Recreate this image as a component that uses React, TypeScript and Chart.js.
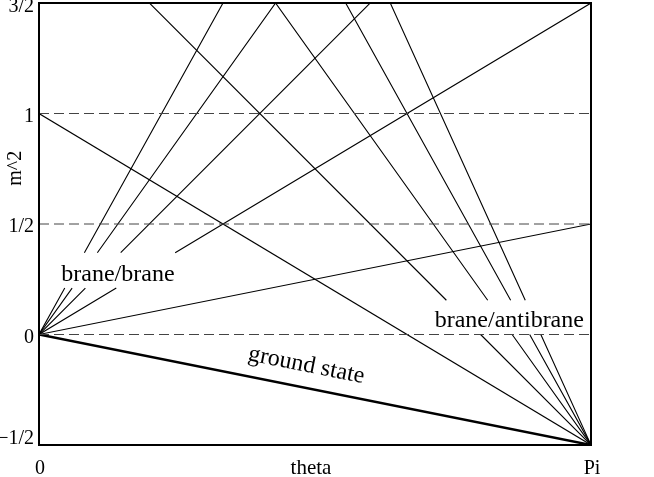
import React, { useEffect, useRef } from "react";
import { Chart, registerables } from "chart.js";

Chart.register(...registerables);

const PI = Math.PI;

// axis ranges and ticks
const thetaRange = [0, PI];
const m2Range = [-0.5, 1.5];
const yTickValues = [-0.5, 0, 0.5, 1, 1.5];
const yTickLabels = ["\u22121/2", "0", "1/2", "1", "3/2"];
const xTickValues = [0, PI];
const xTickLabels = ["0", "Pi"];
const xTitle = "theta";
const yTitle = "m^2";

// dashed reference levels
const dashedLevels = [0, 0.5, 1];

// ground state: m^2 at theta = 0 and at theta = Pi
const groundState = [0, -0.5];

// brane/brane lines start at (0, 0); value of m^2 at theta = Pi
const braneBraneAtPi = [0.5, 1.5, 2.5, 3.5, 4.5];
const braneBraneBroken = [false, true, true, true, true];
const braneBraneGap = [0.21, 0.37];

// brane/antibrane lines end at (Pi, -1/2); value of m^2 at theta = 0
const braneAntibraneAtZero = [1, 2, 3, 4, 5];
const braneAntibraneBroken = [false, true, true, true, true];
const braneAntibraneGap = [0.0, 0.155];
const braneAntibraneEnd = -0.5;

const labelBraneBrane = "brane/brane";
const labelBraneAntibrane = "brane/antibrane";
const labelGround = "ground state";

type P = { x: number; y: number | null };

function segment(x0: number, y0: number, x1: number, y1: number, gap?: number[]): P[] {
  const pts: P[] = [{ x: x0, y: y0 }];
  if (gap) {
    const xAt = (y: number) => x0 + ((y - y0) * (x1 - x0)) / (y1 - y0);
    const yAt = (x: number) => y0 + ((x - x0) * (y1 - y0)) / (x1 - x0);
    const a = xAt(gap[0]);
    const b = xAt(gap[1]);
    const lo = Math.min(a, b);
    const hi = Math.max(a, b);
    pts.push({ x: lo, y: yAt(lo) }, { x: (lo + hi) / 2, y: null }, { x: hi, y: yAt(hi) });
  }
  pts.push({ x: x1, y: y1 });
  return pts;
}

const SERIF = '"Liberation Serif", "Times New Roman", serif';

const textPlugin = {
  id: "textPlugin",
  afterDraw(chart: any) {
    const { ctx, chartArea } = chart;
    const xs = chart.scales.x;
    const ys = chart.scales.y;
    ctx.save();
    // frame
    ctx.strokeStyle = "#000";
    ctx.lineWidth = 2;
    ctx.strokeRect(chartArea.left, chartArea.top, chartArea.right - chartArea.left, chartArea.bottom - chartArea.top);

    ctx.fillStyle = "#000";
    // y tick labels
    ctx.font = `20px ${SERIF}`;
    ctx.textAlign = "right";
    ctx.textBaseline = "middle";
    yTickValues.forEach((v, i) => {
      let y = ys.getPixelForValue(v) + 3;
      y = Math.max(7, Math.min(439, y));
      ctx.fillText(yTickLabels[i], chartArea.left - 5, y);
    });
    // x tick labels
    ctx.font = `20px ${SERIF}`;
    ctx.textAlign = "center";
    xTickValues.forEach((v, i) => {
      ctx.fillText(xTickLabels[i], xs.getPixelForValue(v) + 1, chartArea.bottom + 24);
    });
    // x title
    ctx.font = `21px ${SERIF}`;
    ctx.fillText(xTitle, (chartArea.left + chartArea.right) / 2 - 4, chartArea.bottom + 23);
    // y title
    ctx.save();
    ctx.translate(16, (ys.getPixelForValue(1) + ys.getPixelForValue(1.5)) / 2 + 110);
    ctx.rotate(-Math.PI / 2);
    ctx.font = `20px ${SERIF}`;
    ctx.textAlign = "center";
    ctx.textBaseline = "middle";
    ctx.fillText(yTitle, 0, 0);
    ctx.restore();

    // annotations
    ctx.font = `24px ${SERIF}`;
    ctx.textAlign = "center";
    ctx.textBaseline = "alphabetic";
    ctx.fillText(labelBraneBrane, xs.getPixelForValue(0.143 * PI), ys.getPixelForValue(0.24));
    ctx.fillText(labelBraneAntibrane, xs.getPixelForValue(0.852 * PI), ys.getPixelForValue(0.036));

    const gx0 = xs.getPixelForValue(0);
    const gy0 = ys.getPixelForValue(groundState[0]);
    const gx1 = xs.getPixelForValue(PI);
    const gy1 = ys.getPixelForValue(groundState[1]);
    const ang = Math.atan2(gy1 - gy0, gx1 - gx0);
    ctx.save();
    ctx.translate(xs.getPixelForValue(0.482 * PI), ys.getPixelForValue(-0.168));
    ctx.rotate(ang);
    ctx.fillText(labelGround, 0, 0);
    ctx.restore();

    ctx.restore();
  },
};

export default function App() {
  const ref = useRef<HTMLCanvasElement | null>(null);
  useEffect(() => {
    if (!ref.current) return;
    const datasets: any[] = [];
    dashedLevels.forEach((lv) => {
      datasets.push({
        data: segment(thetaRange[0], lv, thetaRange[1], lv),
        borderColor: "#444",
        borderWidth: 1,
        borderDash: [10, 5],
      });
    });
    braneBraneAtPi.forEach((v, i) => {
      datasets.push({
        data: segment(0, 0, PI, v, braneBraneBroken[i] ? braneBraneGap : undefined),
        borderColor: "#000",
        borderWidth: 1.1,
      });
    });
    braneAntibraneAtZero.forEach((v, i) => {
      datasets.push({
        data: segment(0, v, PI, braneAntibraneEnd, braneAntibraneBroken[i] ? braneAntibraneGap : undefined),
        borderColor: "#000",
        borderWidth: 1.1,
      });
    });
    datasets.push({
      data: segment(0, groundState[0], PI, groundState[1]),
      borderColor: "#000",
      borderWidth: 2.5,
    });

    const chart = new Chart(ref.current, {
      type: "line",
      data: { datasets },
      options: {
        animation: false,
        responsive: false,
        devicePixelRatio: 1,
        events: [],
        spanGaps: false,
        elements: { point: { radius: 0 }, line: { tension: 0 } },
        layout: { padding: { left: 0, right: 63, top: 3, bottom: 0 } },
        plugins: { legend: { display: false }, tooltip: { enabled: false } },
        scales: {
          x: {
            type: "linear",
            min: thetaRange[0],
            max: thetaRange[1],
            grid: { display: false },
            border: { display: false },
            ticks: { display: false },
            afterFit: (s: any) => {
              s.height = 32;
            },
          },
          y: {
            type: "linear",
            min: m2Range[0],
            max: m2Range[1],
            grid: { display: false },
            border: { display: false },
            ticks: { display: false },
            afterFit: (s: any) => {
              s.width = 39;
            },
          },
        },
      } as any,
      plugins: [textPlugin],
    });
    return () => chart.destroy();
  }, []);
  return (
    <div style={{ position: "absolute", left: 0, top: 0, width: 654, height: 477, background: "#fff" }}>
      <canvas ref={ref} width={654} height={477} style={{ display: "block" }} />
    </div>
  );
}
